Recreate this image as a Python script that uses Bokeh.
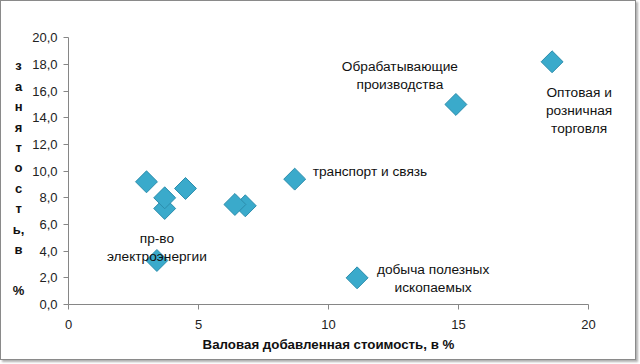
from bokeh.plotting import figure
from bokeh.models import FixedTicker, ColumnDataSource
from bokeh.core.properties import value
from bokeh.embed import file_html
from bokeh.resources import INLINE

# Data: share of gross value added (%) vs share of employment (%)
vds = [3.0, 3.7, 3.7, 4.5, 3.4, 6.8, 6.4, 8.7, 11.1, 14.9, 18.6]
emp = [9.2, 7.2, 8.0, 8.7, 3.3, 7.4, 7.5, 9.4, 2.0, 15.0, 18.2]
names = ["", "", "", "", "пр-во\nэлектроэнергии", "", "", "транспорт и связь",
         "добыча полезных\nископаемых", "Обрабатывающие\nпроизводства",
         "Оптовая и\nрозничная\nторговля"]

x_ticks = [0, 5, 10, 15, 20]
y_ticks = [0, 2, 4, 6, 8, 10, 12, 14, 16, 18, 20]
y_tick_labels = ["0,0", "2,0", "4,0", "6,0", "8,0", "10,0", "12,0", "14,0", "16,0", "18,0", "20,0"]

x_title = "Валовая добавленная стоимость, в %"
y_title = "з\nа\nн\nя\nт\nо\nс\nт\nь,\nв\n\n%"

# label placement (style only): align, dx px, dy px (down positive)
label_style = {
    "пр-во\nэлектроэнергии": ("center", 0, -13),
    "транспорт и связь": ("left", 18, -8),
    "добыча полезных\nископаемых": ("center", 76, 1),
    "Обрабатывающие\nпроизводства": ("center", -56, -29),
    "Оптовая и\nрозничная\nторговля": ("center", 27, 49),
}

FONT = "Liberation Sans"

# frame covers the whole figure; both axes sit at data 0 and are limited
# with bounds so that labels can sit outside 0..20
W, H = 636, 360
X0, X1 = -2.577, 21.885
Y0, Y1 = -4.274, 22.72

p = figure(width=W, height=H, x_range=(X0, X1), y_range=(Y0, Y1),
           output_backend="svg", toolbar_location=None,
           min_border_left=0, min_border_right=0, min_border_top=0,
           min_border_bottom=0)
p.styles = {"border": "1px solid #8a8a8a", "box-shadow": "2px 2px 2px #b0b0b0"}
p.grid.visible = False
p.outline_line_color = None
p.background_fill_color = "white"
p.border_fill_color = "white"

for ax in (p.xaxis, p.yaxis):
    ax.axis_line_color = "#868686"
    ax.major_tick_line_color = "#868686"
    ax.minor_tick_line_color = None
    ax.major_tick_out = 5
    ax.major_tick_in = 0
    ax.major_label_text_font = FONT
    ax.major_label_text_font_size = "13px"
    ax.major_label_text_color = "#222222"

p.xaxis.bounds = (0, 20)
p.yaxis.bounds = (0, 20)
p.xaxis.fixed_location = 0
p.yaxis.fixed_location = 0
p.xaxis.ticker = FixedTicker(ticks=x_ticks)
p.yaxis.ticker = FixedTicker(ticks=y_ticks)
p.yaxis.major_label_overrides = {t: l for t, l in zip(y_ticks, y_tick_labels)}
p.xaxis.major_label_standoff = 10
p.yaxis.major_label_standoff = 6

p.xaxis.axis_label = x_title
p.xaxis.axis_label_text_font = FONT
p.xaxis.axis_label_text_font_style = "bold"
p.xaxis.axis_label_text_font_size = "13.3px"
p.xaxis.axis_label_standoff = 5
p.xaxis.axis_label_text_color = "#111111"

# vertical stacked y-axis title
p.text(x=[-1.92], y=[18.45], text=[y_title], text_align="center",
       text_baseline="top", text_font=value(FONT), text_font_style="bold",
       text_font_size="13px", text_line_height=1.36, text_color="#111111")

src = ColumnDataSource(dict(x=vds, y=emp))
p.scatter("x", "y", source=src, marker="square", size=15.5, angle=0.785398,
          fill_color="#3AAACB", line_color="#2C8DAC", line_width=1)

for nm, xv, yv in zip(names, vds, emp):
    if not nm:
        continue
    align, dx, dy = label_style[nm]
    p.text(x=[xv], y=[yv], text=[nm], x_offset=dx, y_offset=dy,
           text_align=align, text_baseline="middle",
           text_font=value(FONT), text_font_size="13.7px",
           text_line_height=1.2, text_color="#111111")

open("out.html", "w").write(file_html(p, INLINE))
